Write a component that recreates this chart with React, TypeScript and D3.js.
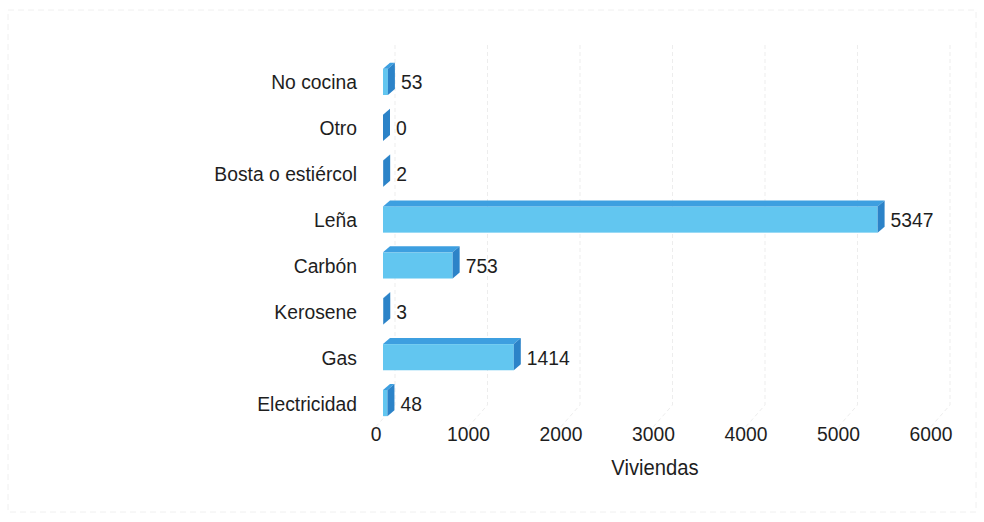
import React from "react";
import * as d3 from "d3";

const categories = ["No cocina", "Otro", "Bosta o estiércol", "Leña", "Carbón", "Kerosene", "Gas", "Electricidad"];
const values = [53, 0, 2, 5347, 753, 3, 1414, 48];
const ticks = [0, 1000, 2000, 3000, 4000, 5000, 6000];
const axisTitle = "Viviendas";

const W = 984;
const H = 522;
const DX = 7;
const DY = 6;
const SX = 0.92;

function T(props: { x: number; y: number; anchor?: string; size?: number; children: any }) {
  const { x, y, anchor = "start", size = 21, children } = props;
  return (
    <text
      transform={`translate(${x},${y}) scale(${SX},1)`}
      textAnchor={anchor}
      dy="0.36em"
      fontFamily="'Liberation Sans', Arial, sans-serif"
      fontSize={size}
      fill="#1e1e1e"
    >
      {children}
    </text>
  );
}

export default function App() {
  const x = d3.scaleLinear().domain([0, 6000]).range([383, 938]);
  const y = d3.scaleBand<string>().domain(categories).range([59, 426]).paddingInner(0.43).paddingOuter(0.215);
  const front = "#62c6f0";
  const top = "#3d9fe0";
  const side = "#2c83c8";

  return (
    <div style={{ position: "absolute", left: 0, top: 0, width: W, height: H, background: "#fff" }}>
      <svg width={W} height={H} style={{ display: "block" }}>
        <rect x={8} y={10} width={968} height={502} fill="none" stroke="#f0f0f0" strokeWidth={1} strokeDasharray="6 4" />
        {ticks.map((t) => (
          <path
            key={"g" + t}
            d={`M${x(t) + 12},45 L${x(t) + 12},405 L${x(t) - 10},430`}
            fill="none"
            stroke="#ededed"
            strokeWidth={1}
            strokeDasharray="4 3"
          />
        ))}
        {categories.map((c, i) => {
          const v = values[i];
          const x0 = x(0);
          const x1 = x(v);
          const yT = y(c) as number;
          const yB = yT + y.bandwidth();
          const cy = (yT + yB) / 2;
          return (
            <g key={c}>
              {x1 > x0 && <rect x={x0} y={yT} width={x1 - x0} height={yB - yT} fill={front} />}
              <polygon points={`${x0},${yT} ${x0 + DX},${yT - DY} ${x1 + DX},${yT - DY} ${x1},${yT}`} fill={top} />
              <polygon points={`${x1},${yT} ${x1 + DX},${yT - DY} ${x1 + DX},${yB - DY} ${x1},${yB}`} fill={side} />
              <T x={x1 + DX + 6} y={cy}>{v}</T>
              <T x={357} y={cy} anchor="end">{c}</T>
            </g>
          );
        })}
        {ticks.map((t) => (
          <T key={"t" + t} x={x(t) - 7} y={433} anchor="middle">{t}</T>
        ))}
        <T x={655} y={467} anchor="middle" size={22}>{axisTitle}</T>
      </svg>
    </div>
  );
}
